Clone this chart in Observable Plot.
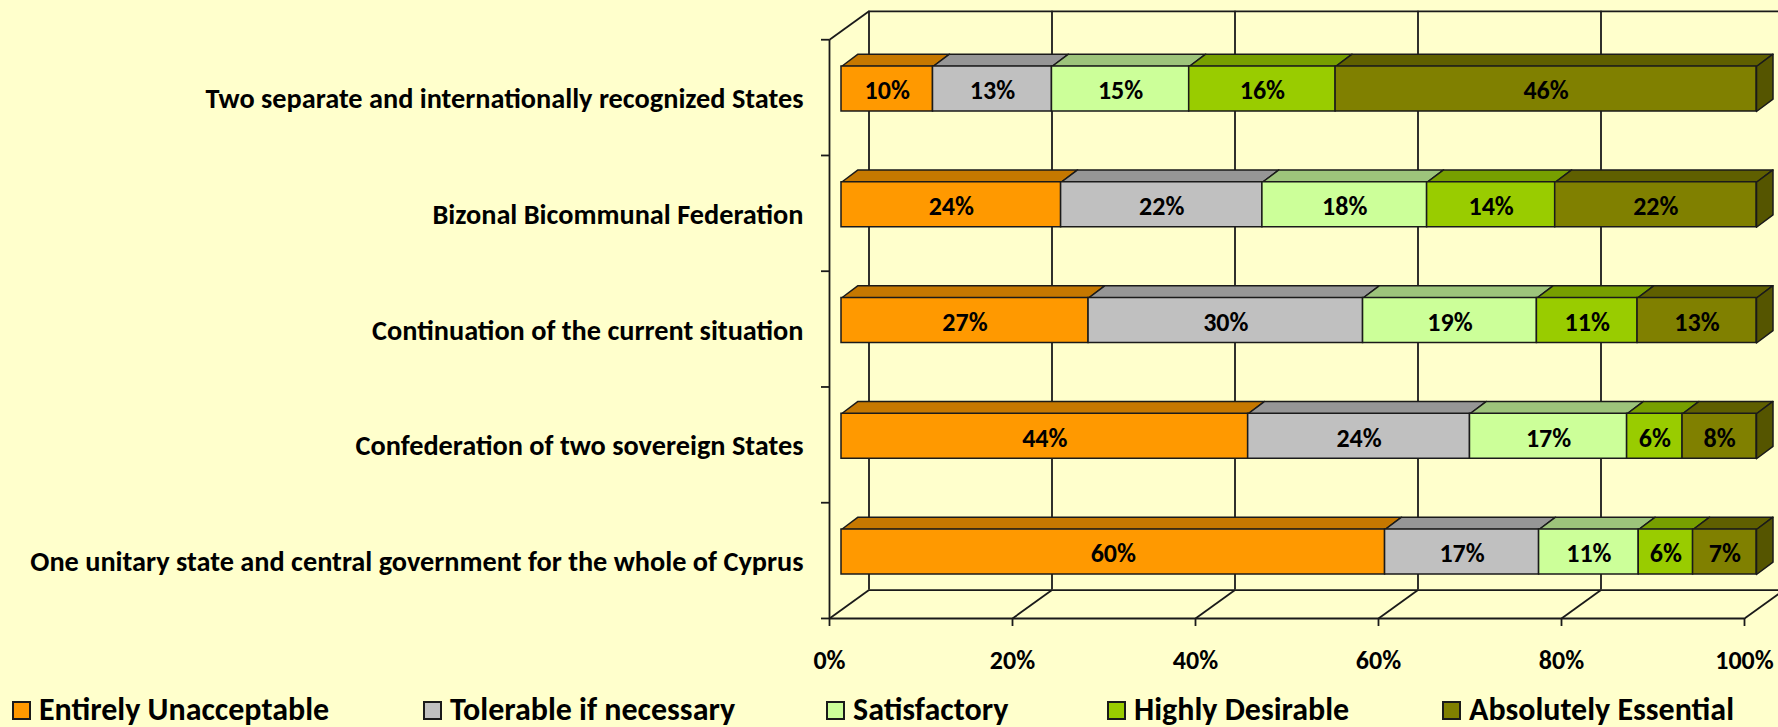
<!DOCTYPE html>
<html>
<head>
<meta charset="utf-8">
<script src="https://cdn.jsdelivr.net/npm/d3@7"></script>
<script src="https://cdn.jsdelivr.net/npm/@observablehq/plot@0.6"></script>
<style>
  html, body { margin: 0; padding: 0; background: #FFFFCC; overflow: hidden; width: 1778px; height: 727px; }
  #chart svg { display: block; }
  #legend { position: relative; margin-top: 0px; height: 36px; font-family: Carlito, Lato, sans-serif; font-weight: bold; font-size: 32px; line-height: 1.2; color: #000; }
  #legend .item { position: absolute; top: 0; white-space: nowrap; }
  #legend .sw { display: inline-block; width: 15px; height: 15px; border: 2px solid #1a1a1a; margin-right: 8px; vertical-align: baseline; }
</style>
</head>
<body>
<div id="chart"></div>
<div id="legend"></div>
<script>
// ---- data ----
const categories = [
  "Two separate and internationally recognized States",
  "Bizonal Bicommunal Federation",
  "Continuation of the current situation",
  "Confederation of two sovereign States",
  "One unitary state and central government for the whole of Cyprus"
];
const series = ["Entirely Unacceptable", "Tolerable if necessary", "Satisfactory", "Highly Desirable", "Absolutely Essential"];
const entirelyUnacceptable = [10, 24, 27, 44, 60];
const tolerableIfNecessary = [13, 22, 30, 24, 17];
const satisfactory = [15, 18, 19, 17, 11];
const highlyDesirable = [16, 14, 11, 6, 6];
const absolutelyEssential = [46, 22, 13, 8, 7];
const xTickValues = [0, 0.2, 0.4, 0.6, 0.8, 1];
const xTickLabels = ["0%", "20%", "40%", "60%", "80%", "100%"];

// ---- styles ----
const frontColors = ["#FF9900", "#C0C0C0", "#CCFF99", "#99CC00", "#808000"];
const topColors = ["#C67800", "#969696", "#9DC47B", "#779F00", "#5F5F00"];
const sideColor = "#555500";
const edge = "#1a1a1a";
const FONT = "Carlito, Lato, sans-serif";

// geometry (pixels)
const X_RANGE = [841, 1756];
const Y_RANGE = [88.5, 551.5];
const pxX = (X_RANGE[1] - X_RANGE[0]);          // px per x unit (domain 0..1)
const pxY = (Y_RANGE[1] - Y_RANGE[0]) / 4;      // px per row
const halfBar = 22.5 / pxY;
const barDX = 16.5 / pxX, barDY = -12.3 / pxY;  // bar depth
const FRONT = {dx: -12, dy: 8.6};
const BACK = {dx: 27.5, dy: -19.8};
const wallDX = (BACK.dx - FRONT.dx) / pxX, wallDY = (BACK.dy - FRONT.dy) / pxY;

// ---- derived table ----
const valuesBySeries = [entirelyUnacceptable, tolerableIfNecessary, satisfactory, highlyDesirable, absolutelyEssential];
const segments = [];
categories.forEach((cat, i) => {
  const total = d3.sum(valuesBySeries, v => v[i]);
  let cum = 0;
  valuesBySeries.forEach((vals, k) => {
    const v = vals[i];
    segments.push({row: i, k, value: v, x1: cum / total, x2: (cum + v) / total, front: frontColors[k], top: topColors[k]});
    cum += v;
  });
});
const topPts = [];
segments.forEach((s, n) => {
  const yT = s.row - halfBar;
  [[s.x1, yT], [s.x2, yT], [s.x2 + barDX, yT + barDY], [s.x1 + barDX, yT + barDY], [s.x1, yT]]
    .forEach(([x, y]) => topPts.push({id: n, x, y, fill: s.top}));
});
const sidePts = [];
segments.filter(s => s.k === series.length - 1).forEach((s, n) => {
  const yT = s.row - halfBar, yB = s.row + halfBar;
  [[s.x2, yT], [s.x2 + barDX, yT + barDY], [s.x2 + barDX, yB + barDY], [s.x2, yB], [s.x2, yT]]
    .forEach(([x, y]) => sidePts.push({id: n, x, y}));
});
const boundaries = d3.range(categories.length + 1).map(i => i - 0.5);
const rowLabels = categories.map((c, i) => ({c, i}));
const ticks = xTickValues.map((t, j) => ({t, label: xTickLabels[j]}));

const lineStyle = {stroke: edge, strokeWidth: 1.8};

const chart = Plot.plot({
  width: 1778,
  height: 691,
  marginTop: 0, marginRight: 0, marginBottom: 0, marginLeft: 0,
  x: {domain: [0, 1], range: X_RANGE, axis: null},
  y: {domain: [0, 4], range: Y_RANGE, axis: null},
  color: {type: "identity"},
  style: {background: "transparent", fontFamily: FONT, color: "#000", overflow: "visible"},
  marks: [
    // back wall
    Plot.ruleX(ticks, {x: "t", y1: -0.5, y2: 4.5, ...BACK, ...lineStyle}),
    Plot.ruleY([-0.5], {x1: 0, x2: 1, ...BACK, ...lineStyle}),
    // floor
    Plot.ruleY([4.5], {x1: 0, x2: 1, ...BACK, ...lineStyle}),
    Plot.ruleY([4.5], {x1: 0, x2: 1, ...FRONT, ...lineStyle}),
    Plot.link(ticks, {x1: "t", y1: 4.5, x2: d => d.t + wallDX, y2: 4.5 + wallDY, ...FRONT, ...lineStyle}),
    // left wall
    Plot.ruleX([0], {y1: -0.5, y2: 4.5, ...FRONT, ...lineStyle}),
    Plot.link([0], {x1: 0, y1: -0.5, x2: wallDX, y2: -0.5 + wallDY, ...FRONT, ...lineStyle}),
    // tick marks
    Plot.ruleY(boundaries, {x1: 0, x2: -8 / pxX, ...FRONT, ...lineStyle}),
    Plot.ruleX(ticks, {x: "t", y1: 4.5, y2: 4.5 + 8 / pxY, ...FRONT, ...lineStyle}),
    // bars: top faces, side faces, front faces
    Plot.line(topPts, {x: "x", y: "y", z: "id", fill: "fill", stroke: edge, strokeWidth: 1.5, strokeLinejoin: "round"}),
    Plot.line(sidePts, {x: "x", y: "y", z: "id", fill: sideColor, stroke: edge, strokeWidth: 1.5, strokeLinejoin: "round"}),
    Plot.rect(segments, {x1: "x1", x2: "x2", y1: d => d.row - halfBar, y2: d => d.row + halfBar, fill: "front", stroke: edge, strokeWidth: 1.5}),
    // value labels
    Plot.text(segments, {x: d => (d.x1 + d.x2) / 2, y: "row", text: d => d.value + "%", dy: 2, fontSize: 26, fontWeight: "bold", fill: "#000"}),
    // category labels
    Plot.text(rowLabels, {x: 0, y: "i", text: "c", textAnchor: "end", dx: -38, dy: 10, fontSize: 28.3, fontWeight: "bold", fill: "#000"}),
    // x tick labels
    Plot.text(ticks, {x: "t", y: 4.5, text: "label", dx: FRONT.dx, dy: FRONT.dy + 42.5, fontSize: 26, fontWeight: "bold", fill: "#000"})
  ]
});
document.getElementById("chart").appendChild(chart);

// legend
const legendLefts = [12, 423, 826, 1107, 1442];
const legend = d3.select("#legend");
series.forEach((s, k) => {
  const item = legend.append("div").attr("class", "item").style("left", legendLefts[k] + "px");
  item.append("span").attr("class", "sw").style("background", frontColors[k]);
  item.append("span").text(s);
});
</script>
</body>
</html>
